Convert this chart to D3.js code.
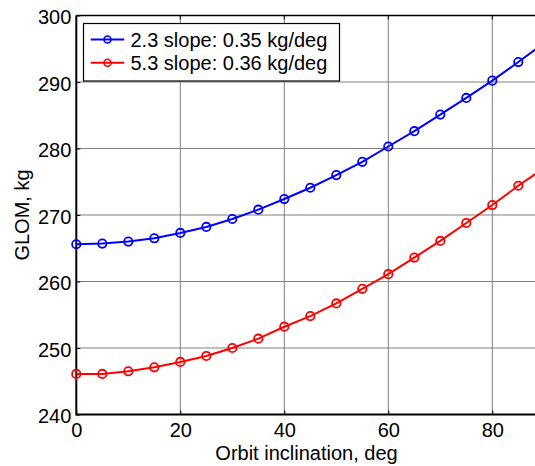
<!DOCTYPE html>
<html><head><meta charset="utf-8">
<script src="https://cdn.jsdelivr.net/npm/d3@7"></script>
<style>body{margin:0;background:#fff}svg{display:block}text{font-family:"Liberation Sans",Arial,sans-serif}</style>
</head><body>
<script>
const inclination = [0,5,10,15,20,25,30,35,40,45,50,55,60,65,70,75,80,85,90];
const glom23 = [265.6,265.7,266.0,266.5,267.3,268.2,269.4,270.8,272.4,274.1,276.0,278.0,280.3,282.6,285.1,287.6,290.2,293.0,295.9];
const glom53 = [246.1,246.1,246.5,247.1,247.9,248.8,250.0,251.4,253.2,254.8,256.7,258.9,261.1,263.6,266.1,268.8,271.5,274.4,277.1];
const seriesNames = ["2.3 slope: 0.35 kg/deg","5.3 slope: 0.36 kg/deg"];
const seriesColors = ["#0000ff","#ff0000"];
const xTicks = [0,20,40,60,80];
const yTicks = [240,250,260,270,280,290,300];

const W=535,H=466;
const svg=d3.select("body").append("svg").attr("width",W).attr("height",H);
const x=d3.scaleLinear().domain([0,90]).range([76.3,544.3]);
const y=d3.scaleLinear().domain([240,300]).range([414.5,15.5]);
const x0=x(0),x1=x(90),y0=y(240),y1=y(300);

// grid
const g=svg.append("g");
g.selectAll(".vg").data(xTicks.filter(d=>d>0)).enter().append("line")
 .attr("x1",d=>x(d)).attr("x2",d=>x(d)).attr("y1",y0).attr("y2",y1)
 .attr("stroke","#808080").attr("stroke-width",1);
g.selectAll(".hg").data(yTicks.filter(d=>d>240&&d<300)).enter().append("line")
 .attr("y1",d=>y(d)).attr("y2",d=>y(d)).attr("x1",x0).attr("x2",x1)
 .attr("stroke","#808080").attr("stroke-width",1);

// axes
const xAxis=d3.axisBottom(x).tickValues(xTicks).tickSize(-4).tickPadding(8).tickFormat(d3.format("d"));
const yAxis=d3.axisLeft(y).tickValues(yTicks).tickSize(-4).tickPadding(5).tickFormat(d3.format("d"));
const gx=svg.append("g").attr("transform",`translate(0,${y0})`).call(xAxis);
const gy=svg.append("g").attr("transform",`translate(${x0},0)`).call(yAxis);
[gx,gy].forEach(a=>{a.select(".domain").remove();a.selectAll("line").attr("stroke","#000");
 a.selectAll("text").attr("font-size",20).attr("fill","#000").attr("font-family","Liberation Sans, Arial, sans-serif");});
gx.selectAll("text").attr("dy","0.71em");
gy.selectAll("text").attr("dy","0.40em");
// top ticks
svg.append("g").selectAll("line").data(xTicks).enter().append("line")
 .attr("x1",d=>x(d)).attr("x2",d=>x(d)).attr("y1",y1).attr("y2",y1+4).attr("stroke","#000");

// box
svg.append("line").attr("x1",x0).attr("x2",x1).attr("y1",y1).attr("y2",y1).attr("stroke","#000").attr("stroke-width",1.5);
svg.append("line").attr("x1",x0).attr("x2",x1).attr("y1",y0).attr("y2",y0).attr("stroke","#000").attr("stroke-width",2);
svg.append("line").attr("x1",x0).attr("x2",x0).attr("y1",y0+1).attr("y2",y1).attr("stroke","#000").attr("stroke-width",2);

// series
const series=[glom23,glom53];
const line=d3.line().x((d,i)=>x(inclination[i])).y(d=>y(d));
series.forEach((s,k)=>{
  svg.append("path").datum(s).attr("d",line).attr("fill","none").attr("stroke",seriesColors[k]).attr("stroke-width",2);
  svg.append("g").selectAll("circle").data(s).enter().append("circle")
   .attr("cx",(d,i)=>x(inclination[i])).attr("cy",d=>y(d)).attr("r",4.2)
   .attr("fill","none").attr("stroke",seriesColors[k]).attr("stroke-width",1.8);
});

// legend
const lg=svg.append("g");
lg.append("rect").attr("x",83.5).attr("y",23.5).attr("width",256).attr("height",57.5)
 .attr("fill","#fff").attr("stroke","#000").attr("stroke-width",1.2);
seriesNames.forEach((n,k)=>{
  const yy=39.5+k*23.3;
  lg.append("line").attr("x1",90.7).attr("x2",124.3).attr("y1",yy).attr("y2",yy).attr("stroke",seriesColors[k]).attr("stroke-width",2);
  lg.append("circle").attr("cx",107.5).attr("cy",yy).attr("r",3.5).attr("fill","none").attr("stroke",seriesColors[k]).attr("stroke-width",1.6);
  lg.append("text").attr("x",130.5).attr("y",yy).attr("dy","0.36em").attr("font-size",20).text(n);
});

// labels
svg.append("text").attr("x",306.5).attr("y",460).attr("text-anchor","middle").attr("font-size",20).text("Orbit inclination, deg");
svg.append("text").attr("transform",`translate(29,${(y0+y1)/2}) rotate(-90)`).attr("text-anchor","middle").attr("font-size",20).text("GLOM, kg");
</script>
</body></html>
